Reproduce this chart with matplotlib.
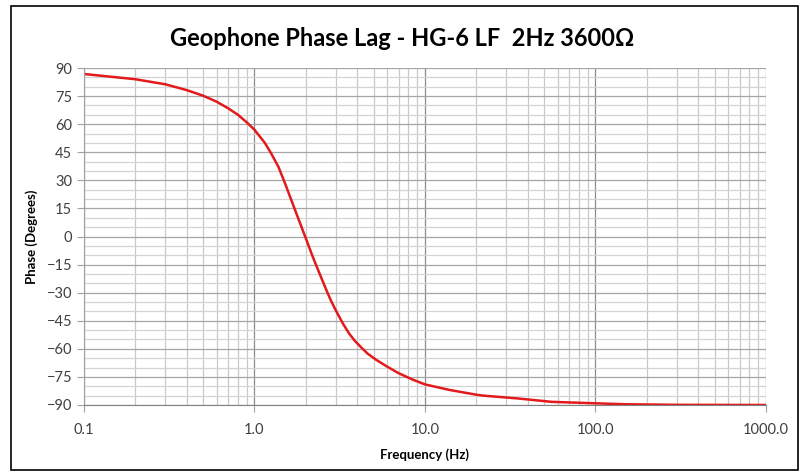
import matplotlib
matplotlib.use('Agg')
import matplotlib.pyplot as plt
import matplotlib.ticker as ticker
from matplotlib.patches import Rectangle
import numpy as np

# phase response
freq_hz = [0.1, 0.2, 0.3, 0.4, 0.5, 0.6, 0.7, 0.8, 0.9, 1.0, 1.15, 1.25, 1.38,
           1.51, 1.73, 2.0, 2.2, 2.4, 2.65, 2.8, 3.0, 3.3, 3.6, 3.9, 4.2, 4.6, 5.2,
           6.0, 7.0, 8.5, 10, 14, 20, 22, 35, 55, 100, 150, 300, 1000]
phase_deg = [86.8, 84.0, 81.3, 78.2, 75.2, 72.0, 68.5, 65.0, 61.0, 57.0, 50.0, 44.5, 37.3,
             28.4, 14.1, -1.0, -11.0, -19.5, -29.0, -34.0, -39.5, -46.5, -52.0, -56.0, -59.0, -62.5, -66.0,
             -69.5, -73.0, -76.5, -79.0, -82.0, -84.5, -85.0, -86.5, -88.3, -89.1, -89.6, -89.9, -90.0]

y_ticks = list(range(-90, 91, 15))
x_ticks = [0.1, 1.0, 10.0, 100.0, 1000.0]

plt.rcParams['font.family'] = ['Lato', 'DejaVu Sans']

fig = plt.figure(figsize=(8.04, 4.71), dpi=100)
ax = fig.add_axes([84/804, 1-405/471, (766-84)/804, (405-68)/471])

ax.plot(freq_hz, phase_deg, color='#e31a1c', lw=1.8, solid_capstyle='round')

ax.set_xscale('log')
ax.set_xlim(0.1, 1000)
ax.set_ylim(-90, 90)
ax.set_yticks(y_ticks)
ax.yaxis.set_minor_locator(ticker.MultipleLocator(5))
ax.set_xticks(x_ticks)
ax.set_xticklabels([format(v, '.1f') for v in x_ticks])
ax.xaxis.set_minor_locator(ticker.LogLocator(base=10, subs=np.arange(2, 10)))
ax.xaxis.set_minor_formatter(ticker.NullFormatter())

ax.grid(True, which='major', axis='x', color='#8c8c8c', lw=0.9)
ax.grid(True, which='minor', axis='x', color='#c8c8c8', lw=0.9)
ax.grid(True, which='major', axis='y', color='#a6a6a6', lw=0.9)
ax.grid(True, which='minor', axis='y', color='#d4d4d4', lw=0.9)
ax.set_axisbelow(True)

for s in ['top', 'right']:
    ax.spines[s].set_visible(False)
ax.spines['left'].set_color('#a0a0a0')
ax.spines['bottom'].set_color('#808080')
ax.tick_params(axis='both', which='major', length=5, color='#a0a0a0',
               labelsize=10.5, labelcolor='#404040')
ax.tick_params(axis='x', which='major', pad=8)
ax.tick_params(axis='both', which='minor', length=0)

ax.set_xlabel('Frequency (Hz)', fontsize=9.5, fontweight='bold', labelpad=8)
ax.set_ylabel('Phase (Degrees)', fontsize=9.5, fontweight='bold', labelpad=6)
fig.text(0.5, 1-38/471, 'Geophone Phase Lag - HG-6 LF  2Hz 3600\u03a9',
         ha='center', va='center', fontsize=17, fontweight='bold')

# outer chart frame
fig.patches.append(Rectangle((11/804, 1/471), (798-11)/804, (464)/471,
                             transform=fig.transFigure, fill=False,
                             edgecolor='black', lw=1.2))

plt.savefig('out.png', dpi=100)
plt.close(fig)
